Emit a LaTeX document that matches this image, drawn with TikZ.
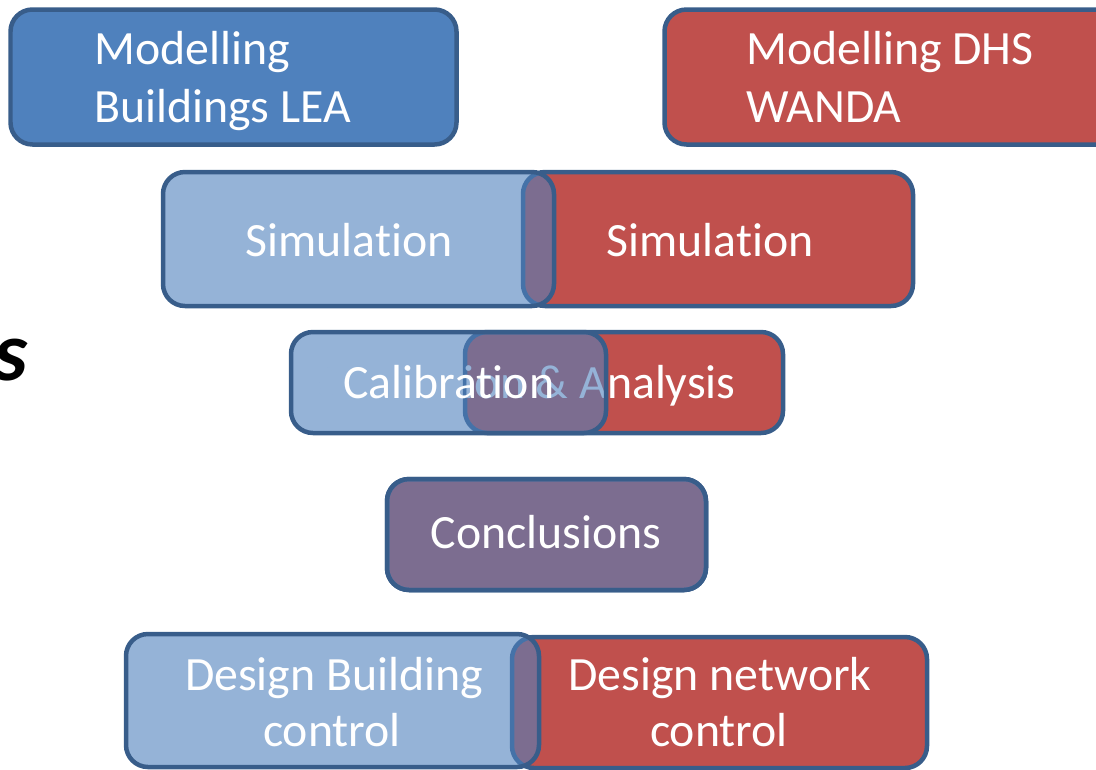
\documentclass[tikz,border=0pt]{standalone}
\usepackage{fontspec}
\setmainfont[Ligatures = NoCommon]{Carlito}
\definecolor{boxblue}{HTML}{4F81BD}
\definecolor{boxred}{HTML}{C0504D}
\definecolor{boxline}{HTML}{385D8A}

\begin{document}
\begin{tikzpicture}[x = 0.02cm, y = -0.02cm,
  box/.style = {draw = boxline, line width = 0.09cm, rounded corners = 0.44cm},
  bluebox/.style = {box, fill = boxblue},
  redbox/.style = {box, fill = boxred},
  glassbox/.style = {box, fill = boxblue, fill opacity = 0.6},
  lbl/.style = {text = white, inner sep = 0pt, font = \fontsize{27.2}{32}\selectfont}]
\useasboundingbox (0,0) rectangle (1096,769);
% leftover of a title, cut by the page edge
\node [anchor = base east, inner sep = 0pt, font = \fontsize{48}{52}\selectfont\bfseries\itshape] (ttl) at (28,380) {s};

% modelling
\draw [bluebox] (10.5,9.5) rectangle (456.5,144.5);
\node [lbl, anchor = base west] (modB1) at (94,64) {Modelling};
\node [lbl, anchor = base west] (modB2) at (94,122) {Buildings LEA};
\draw [redbox] (664.5,9.5) rectangle (1120,144.5);
\node [lbl, anchor = base west] (modD1) at (746,64) {Modelling DHS};
\node [lbl, anchor = base west] (modD2) at (746,122) {WANDA};

% simulation
\draw [redbox] (523,172) rectangle (913,306);
\node [lbl, anchor = base] (simD) at (710,256) {Simulation};
\draw [glassbox] (163,172) rectangle (554,306);
\node [lbl, anchor = base] (simB) at (349,256) {Simulation};

% calibration, the blue box hides part of the red text
\draw [redbox] (465,332) rectangle (783,433);
\node [lbl, anchor = base east] (calD) at (736,398) {Calibration \& Analysis};
\draw [glassbox] (291,332) rectangle (606,433);
\node [lbl, anchor = base west] (calB) at (343,398) {Calibration};

% conclusions
\draw [redbox] (387,479) rectangle (706,590);
\draw [glassbox] (387,479) rectangle (706,590);
\node [lbl, anchor = base] (concl) at (546,548) {Conclusions};

% control design
\draw [redbox] (512,637) rectangle (927,768);
\node [lbl, anchor = base] (desN1) at (720,690) {Design network};
\node [lbl, anchor = base] (desN2) at (719,746) {control};
\draw [glassbox] (126,634) rectangle (539,767);
\node [lbl, anchor = base] (desB1) at (334,690) {Design Building};
\node [lbl, anchor = base] (desB2) at (332,746) {control};
\end{tikzpicture}
\end{document}
